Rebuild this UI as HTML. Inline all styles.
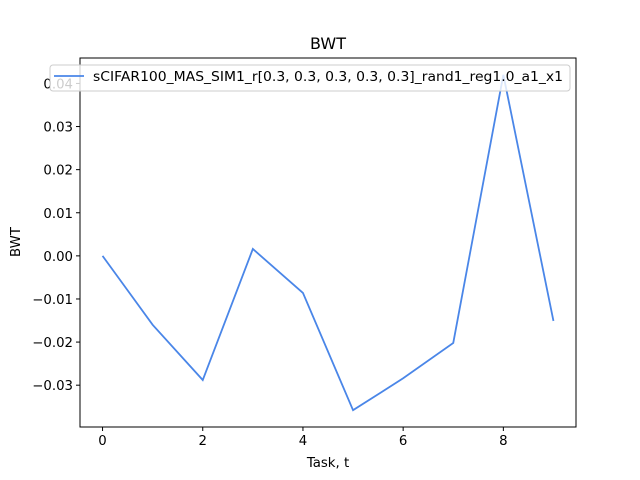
<!DOCTYPE html>
<html><head><meta charset="utf-8"><style>
body{margin:0;background:#fff}
svg{display:block;font-family:"DejaVu Sans","Liberation Sans",sans-serif}
</style></head><body>
<svg id="chart" width="640" height="480" viewBox="0 0 640 480">
<rect width="640" height="480" fill="#fff"/>
<text x="328" y="49" font-size="16" text-anchor="middle">BWT</text>
<g id="ticks"></g>
<polyline id="line" fill="none" stroke="#4a86e8" stroke-width="1.8"/>
<rect x="80" y="58" width="496" height="369" fill="none" stroke="#000" stroke-width="1"/>
<g>
<rect x="50" y="65" width="520" height="26" rx="3" fill="#fff" fill-opacity="0.8" stroke="#ccc"/>
<line x1="54" y1="76" x2="84" y2="76" stroke="#4a86e8" stroke-width="1.8"/>
<text x="93" y="81" font-size="13.3" textLength="470" lengthAdjust="spacingAndGlyphs">sCIFAR100_MAS_SIM1_r[0.3, 0.3, 0.3, 0.3, 0.3]_rand1_reg1.0_a1_x1</text>
</g>
<text x="328" y="467" font-size="13.3" text-anchor="middle">Task, t</text>
<text x="20" y="242" font-size="13.3" text-anchor="middle" transform="rotate(-90 20 242)">BWT</text>
</svg>
<script>
const tasks=[0,1,2,3,4,5,6,7,8,9];
const bwt=[0.0,-0.016,-0.0288,0.0016,-0.0086,-0.0358,-0.0284,-0.0202,0.042,-0.0151];
const xTicks=[0,2,4,6,8];
const yTicks=[-0.03,-0.02,-0.01,0.0,0.01,0.02,0.03,0.04];
const yTickLabels=["−0.03","−0.02","−0.01","0.00","0.01","0.02","0.03","0.04"];
const X0=80,X1=576,Y0=58,Y1=427;
const xmin=-0.45,xmax=9.45,ymin=-0.0397,ymax=0.0459;
function sx(v){return X0+(v-xmin)/(xmax-xmin)*(X1-X0);}
function sy(v){return Y1-(v-ymin)/(ymax-ymin)*(Y1-Y0);}
const NS="http://www.w3.org/2000/svg";
const g=document.getElementById('ticks');
function mk(tag,attrs){const e=document.createElementNS(NS,tag);for(const k in attrs)e.setAttribute(k,attrs[k]);g.appendChild(e);return e;}
xTicks.forEach(t=>{
 const l=mk('line',{x1:sx(t),x2:sx(t),y1:Y1,y2:Y1+4,stroke:'#000'});
 
 
 const tx=mk('text',{x:sx(t),y:Y1+18,'font-size':'13.3','text-anchor':'middle'});
 tx.textContent=t;
 
 
});
yTicks.forEach((t,i)=>{
 const l=mk('line',{x1:X0-4,x2:X0,y1:sy(t),y2:sy(t),stroke:'#000'});
 
 
 const tx=mk('text',{x:X0-7,y:sy(t)+5,'font-size':'13.3','text-anchor':'end'});
 tx.textContent=yTickLabels[i];
 
 
});
document.getElementById('line').setAttribute('points',tasks.map((t,i)=>sx(t)+','+sy(bwt[i])).join(' '));
</script>
</body></html>
